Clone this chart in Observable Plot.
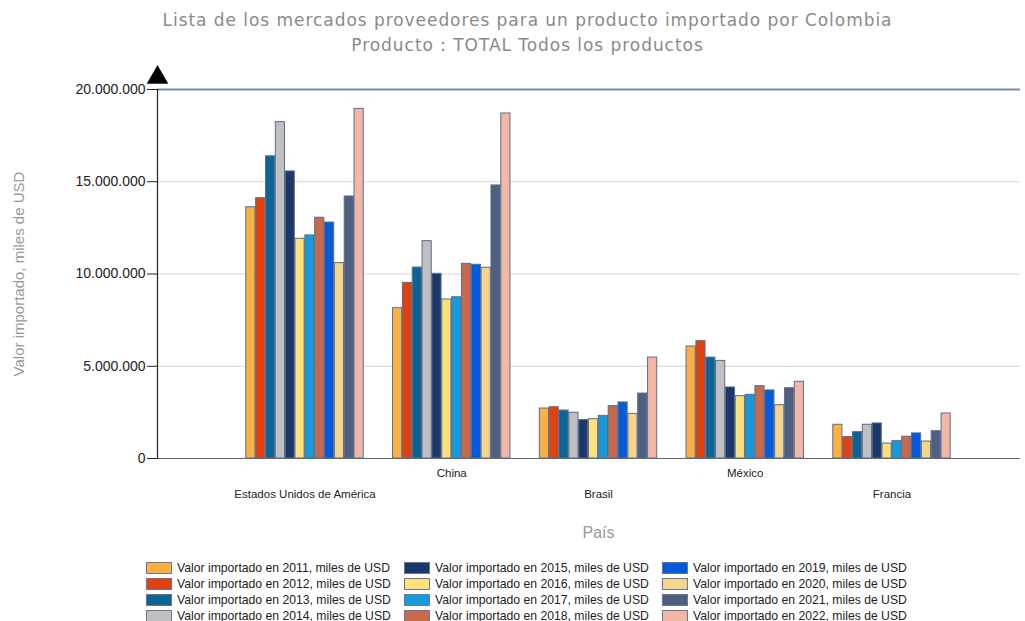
<!DOCTYPE html>
<html>
<head>
<meta charset="utf-8">
<script src="https://cdn.jsdelivr.net/npm/d3@7"></script>
<script src="https://cdn.jsdelivr.net/npm/@observablehq/plot@0.6"></script>
<style>
  html, body { margin: 0; padding: 0; background: #fff; }
  #title { font-family: "DejaVu Sans", Verdana, sans-serif; font-size: 17px; letter-spacing: 0.95px; color: #8a8a8a; text-align: center; line-height: 25px; padding-top: 8px; height: 58px; width: 1025px; padding-left: 30px; box-sizing: border-box; }
  #chart { position: relative; height: 494px; width: 1025px; }
  #chart svg { position: absolute; left: 0; top: 0; }
  #legend { display: grid; grid-template-columns: repeat(3, 258px); grid-template-rows: repeat(4, 16px); grid-auto-flow: column; margin-left: 146px; margin-top: 8px; font-family: "Liberation Sans", Arial, sans-serif; font-size: 12.2px; color: #222; }
  .item { display: flex; align-items: center; white-space: nowrap; }
  .sw { width: 24px; height: 10px; border: 1px solid #6a7896; margin-right: 5px; }
</style>
</head>
<body>
<div id="title">Lista de los mercados proveedores para un producto importado por Colombia<br>Producto : TOTAL Todos los productos</div>
<div id="chart"></div>
<div id="legend"></div>
<script>
const countries = ["Estados Unidos de América", "China", "Brasil", "México", "Francia"];
const years = ["2011", "2012", "2013", "2014", "2015", "2016", "2017", "2018", "2019", "2020", "2021", "2022"];
const usa     = [13620000, 14110000, 16380000, 18230000, 15560000, 11910000, 12090000, 13050000, 12790000, 10590000, 14200000, 18950000];
const china   = [8150000, 9520000, 10350000, 11780000, 10010000, 8620000, 8740000, 10550000, 10500000, 10340000, 14800000, 18700000];
const brasil  = [2710000, 2780000, 2600000, 2480000, 2080000, 2130000, 2310000, 2840000, 3040000, 2420000, 3520000, 5470000];
const mexico  = [6070000, 6360000, 5470000, 5290000, 3850000, 3380000, 3450000, 3920000, 3690000, 2890000, 3810000, 4160000];
const francia = [1830000, 1160000, 1430000, 1830000, 1900000, 810000, 940000, 1180000, 1360000, 920000, 1480000, 2440000];
const yTicks = [0, 5000000, 10000000, 15000000, 20000000];
const colors = ["#FBB040", "#E2400C", "#0B6494", "#C0C0C0", "#1B3968", "#FFE17A", "#159BDC", "#C8694B", "#035BDC", "#F5D48B", "#4E5F80", "#F3B7A6"];
const seriesLabel = y => `Valor importado en ${y}, miles de USD`;

const byCountry = [usa, china, brasil, mexico, francia];
const data = [];
countries.forEach((c, i) => years.forEach((y, j) => data.push({country: c, year: y, value: byCountry[i][j]})));

const fmt = d3.formatLocale({decimal: ",", thousands: ".", grouping: [3], currency: ["", ""]}).format(",");
const midCountry = countries[Math.floor(countries.length / 2)];

const common = {
  width: 1025,
  height: 494,
  marginTop: 31,
  marginBottom: 94,
  y: {domain: [0, 20000000], axis: null}
};

// Background: grid, frame lines, y axis
const back = Plot.plot({
  ...common,
  marginLeft: 157,
  marginRight: 5,
  style: {fontFamily: "Liberation Sans, Arial, sans-serif", background: "#fff"},
  marks: [
    Plot.ruleY(yTicks.slice(1, -1), {stroke: "#d4d4d4", strokeWidth: 1}),
    Plot.ruleY([yTicks[yTicks.length - 1]], {stroke: "#7489b0", strokeWidth: 2}),
    Plot.ruleY([0], {stroke: "#666", strokeWidth: 1.2}),
    Plot.frame({anchor: "left", stroke: "#222", strokeWidth: 1.2}),
    Plot.axisY({ticks: yTicks, tickFormat: fmt, tickSize: 10, tickPadding: 2, fontSize: 14, color: "#222", label: null}),
    Plot.axisY({ticks: [], label: "Valor importado, miles de USD", labelArrow: "none", labelAnchor: "center", labelOffset: 144, fontSize: 15, color: "#999"}),
    Plot.dot([yTicks[yTicks.length - 1]], {y: d => d, frameAnchor: "left", symbol: "triangle", r: 8, fill: "#000", stroke: "none", dy: -12})
  ]
});

// Foreground: grouped bars and country labels
const front = Plot.plot({
  ...common,
  marginLeft: 245.8,
  marginRight: 1025 - 950.2,
  style: {fontFamily: "Liberation Sans, Arial, sans-serif", background: "transparent"},
  fx: {domain: countries, paddingInner: 0.2, paddingOuter: 0, round: false, axis: null, label: null},
  x: {domain: years, paddingInner: 0.07, paddingOuter: 0, round: false, axis: null},
  color: {domain: years, range: colors},
  marks: [
    Plot.barY(data, {fx: "country", x: "year", y: "value", fill: "year", stroke: "#5d6c8c", strokeWidth: 1}),
    Plot.axisFx({anchor: "bottom", ticks: countries.filter((d, i) => i % 2 === 1), tickSize: 0, tickPadding: 10, label: null, fontSize: 11.5, color: "#222"}),
    Plot.axisFx({anchor: "bottom", ticks: countries.filter((d, i) => i % 2 === 0), tickSize: 0, tickPadding: 31, label: null, fontSize: 11.5, color: "#222"}),
    Plot.text(["País"], {fx: () => midCountry, text: d => d, frameAnchor: "bottom", dy: 79, fill: "#999", fontSize: 16})
  ]
});

const host = document.getElementById("chart");
host.appendChild(back);
host.appendChild(front);

const legend = document.getElementById("legend");
years.forEach((y, i) => {
  const it = document.createElement("div");
  it.className = "item";
  const sw = document.createElement("span");
  sw.className = "sw";
  sw.style.background = colors[i];
  const t = document.createElement("span");
  t.textContent = seriesLabel(y);
  it.appendChild(sw);
  it.appendChild(t);
  legend.appendChild(it);
});
</script>
</body>
</html>
